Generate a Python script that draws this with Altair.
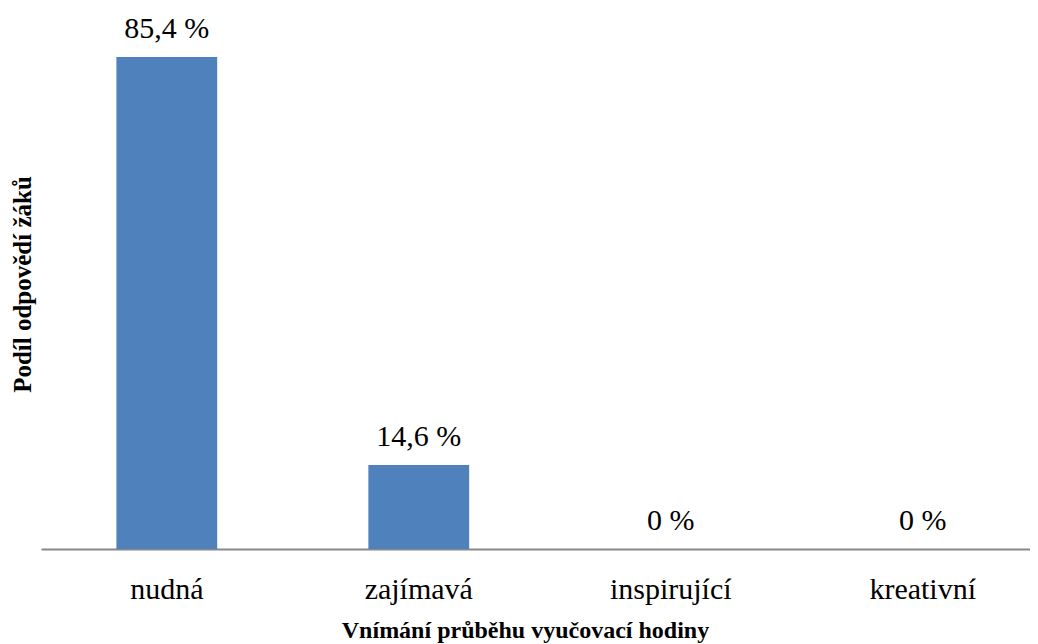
import altair as alt
import pandas as pd

categories = ["nudná", "zajímavá", "inspirující", "kreativní"]
values = [85.4, 14.6, 0, 0]

df = pd.DataFrame({"kategorie": categories, "podil": values})

FONT = "'Liberation Serif', 'Times New Roman', Tinos, 'DejaVu Serif', serif"

x_enc = alt.X(
    "kategorie:N",
    sort=categories,
    scale=alt.Scale(paddingInner=0.6, paddingOuter=0.2625, align=0.57),
    axis=alt.Axis(
        title="Vnímání průběhu vyučovací hodiny",
        titleFont=FONT, titleFontSize=24, titleFontWeight="bold", titleColor="black",
        titleBaseline="alphabetic", titleX=484, titleY=88, titleAnchor="start", titleAlign="center",
        labelFont=FONT, labelFontSize=30, labelColor="black", labelAngle=0,
        labelBaseline="alphabetic", labelPadding=49,
        ticks=False, tickSize=0, domainColor="#888888", domainWidth=2, grid=False,
    ),
)

y_enc = alt.Y(
    "podil:Q",
    scale=alt.Scale(domain=[0, 92], nice=False, zero=True),
    axis=alt.Axis(
        title="Podíl odpovědí žáků",
        titleFont=FONT, titleFontSize=25, titleFontWeight="bold", titleColor="black",
        titleAngle=270, titleBaseline="middle", titleAlign="center",
        titleX=-19, titleY=265,
        labels=False, ticks=False, domain=False, grid=False,
    ),
)

bars = alt.Chart(df).mark_bar(color="#4F81BD").encode(x=x_enc, y=y_enc)

text = alt.Chart(df).transform_calculate(
    lab="replace(format(datum.podil, '.1~f'), '.', ',') + ' %'"
).mark_text(
    font=FONT, fontSize=30, color="black", baseline="alphabetic", dy=-19
).encode(
    x=alt.X("kategorie:N", sort=categories),
    y=alt.Y("podil:Q"),
    text="lab:N",
)

chart = alt.layer(bars, text).properties(
    width=989, height=530,
    autosize=alt.AutoSizeParams(type="none"),
    padding={"left": 33, "top": 11, "right": 0, "bottom": 100},
    view=alt.ViewBackground(stroke="white", strokeWidth=0, strokeOpacity=0),
).configure_view(strokeOpacity=0, strokeWidth=0).configure(
    background="white", font=FONT
)

chart.save("out.html", embed_options={"renderer": "svg", "actions": False})
